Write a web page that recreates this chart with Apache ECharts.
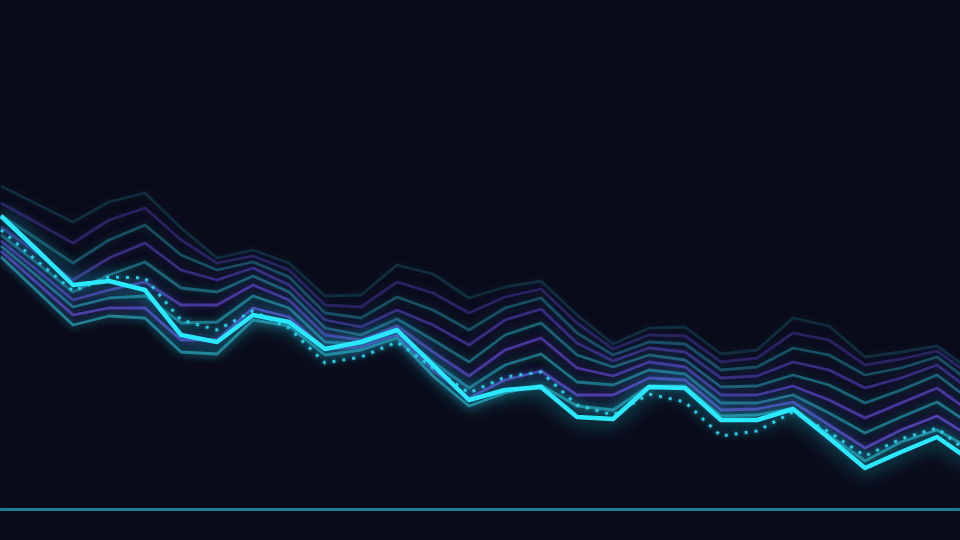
<!DOCTYPE html>
<html>
<head>
<meta charset="utf-8">
<style>
html,body{margin:0;padding:0;background:#0a0b19;}
#chart{width:960px;height:540px;}
</style>
<script src="https://cdn.jsdelivr.net/npm/echarts@6/dist/echarts.min.js"></script>
</head>
<body>
<div id="chart"></div>
<script>
// x positions (index)
const steps = [0,1,2,3,4,5,6,7,8,9,10,11,12,13,14,15,16,17,18,19,20,21,22,23,24,25,26,27];

// main bright series
const mainSeries = [58.6,51.8,44.8,45.6,43.8,34.8,33.4,38.8,37.4,32.0,33.4,35.8,28.8,21.8,23.8,24.4,18.4,18.0,24.4,24.2,17.8,17.8,20.0,14.2,8.2,11.4,14.4,9.4];

// dotted series
const dottedSeries = [55.8,49.6,43.6,46.4,46.2,37.8,35.8,39.6,36.2,29.2,30.4,33.4,28.2,23.2,26.4,27.4,20.8,18.8,23.0,21.4,14.6,15.6,19.4,15.4,10.6,14.0,16.2,10.6];

// fan lines, top to bottom
const fan1 = [64.6,61.0,57.4,61.4,63.2,56.2,50.2,51.8,49.2,42.6,42.8,48.8,47.0,42.2,44.4,45.6,38.8,33.0,36.2,36.4,31.0,31.8,38.2,36.6,30.4,31.4,32.6,27.4];
const fan2 = [61.2,57.2,53.2,57.8,60.2,53.8,49.2,50.6,47.8,40.8,40.4,45.4,43.2,39.2,42.4,44.0,37.2,32.0,34.8,34.6,29.4,30.2,35.2,33.8,28.8,30.0,31.6,26.4];
const fan3 = [58.8,54.0,49.2,53.8,56.8,50.8,47.8,49.4,46.4,39.2,38.2,42.4,39.8,35.8,40.2,42.2,35.2,30.8,33.4,33.0,27.8,28.4,32.2,30.8,26.8,28.2,30.4,25.0];
const fan4 = [56.4,51.2,45.8,50.2,53.2,47.8,45.8,48.2,44.8,37.8,36.4,39.8,36.8,32.8,37.8,40.0,33.2,29.6,32.2,31.4,26.2,26.6,29.4,27.8,24.2,26.2,28.8,23.4];
const fan5 = [54.8,49.2,43.4,46.8,49.4,44.2,43.4,46.6,43.4,36.2,34.8,38.0,33.8,29.4,34.8,37.2,30.8,28.4,30.8,29.8,24.4,24.6,26.8,24.8,21.2,23.8,26.8,21.4];
const fan6 = [53.6,47.8,41.8,43.8,45.4,40.8,40.8,44.8,41.8,34.8,33.8,36.6,31.4,26.6,31.8,34.2,28.2,26.6,29.4,28.4,22.8,22.8,24.6,21.8,18.2,21.2,24.2,19.0];
const fan7 = [52.6,46.6,40.4,42.2,42.6,37.2,37.4,42.6,40.2,33.4,33.0,35.6,29.4,24.2,28.8,31.0,25.4,24.8,27.8,27.0,21.2,21.2,22.8,19.2,15.2,18.4,21.4,16.6];
const fan8 = [51.6,45.2,38.8,40.2,40.2,33.8,33.8,40.2,38.4,32.0,32.4,34.8,27.8,22.2,25.8,27.6,22.8,22.8,26.2,25.8,19.8,20.0,21.4,16.8,12.2,15.8,18.6,14.2];
const fan9 = [50.4,43.6,36.8,38.6,38.2,31.4,31.0,37.8,36.6,30.8,31.8,34.2,26.6,20.6,23.2,24.8,20.6,19.8,24.6,24.6,18.6,18.8,20.2,14.8,9.6,13.4,15.8,11.8];

const fanLines = [fan1,fan2,fan3,fan4,fan5,fan6,fan7,fan8,fan9];
const fanColors = [
  'rgba(24,72,90,0.55)',
  'rgba(62,48,140,0.6)',
  'rgba(28,100,120,0.75)',
  'rgba(70,56,158,0.75)',
  'rgba(30,112,132,0.85)',
  'rgba(76,60,168,0.9)',
  'rgba(32,120,140,0.95)',
  'rgba(82,64,178,0.95)',
  'rgba(34,128,148,1)'
];

function pairs(arr){ return arr.map((v,i)=>[steps[i], v]); }

const series = [];
fanLines.forEach((arr, k) => {
  series.push({
    type: 'line',
    data: pairs(arr),
    symbol: 'none',
    z: 2,
    lineStyle: {width: 2.8, color: fanColors[k], shadowBlur: 8, shadowColor: fanColors[k], join: 'round'}
  });
});
series.push({
  type: 'line',
  data: pairs(dottedSeries),
  symbol: 'none',
  z: 3,
  lineStyle: {width: 3, type: [3, 7], color: '#2ac8e4', shadowBlur: 4, shadowColor: 'rgba(40,200,230,0.6)'}
});
series.push({
  type: 'line',
  data: pairs(mainSeries),
  symbol: 'none',
  z: 4,
  lineStyle: {width: 4.5, color: '#2ae8ff', shadowBlur: 20, shadowColor: 'rgba(40,230,255,0.85)', join: 'round'}
});

const chart = echarts.init(document.getElementById('chart'), null, {renderer: 'canvas'});
chart.setOption({
  backgroundColor: '#0a0b19',
  animation: false,
  grid: {left: 1, right: 1, top: 9, bottom: 31},
  xAxis: {
    type: 'value', min: 0, max: 26.61,
    axisLine: {show: true, lineStyle: {color: '#1b7e98', width: 3}},
    axisTick: {show: false}, axisLabel: {show: false}, splitLine: {show: false}
  },
  yAxis: {
    type: 'value', min: 0, max: 100,
    axisLine: {show: false}, axisTick: {show: false}, axisLabel: {show: false}, splitLine: {show: false}
  },
  series: series
});
</script>
</body>
</html>
